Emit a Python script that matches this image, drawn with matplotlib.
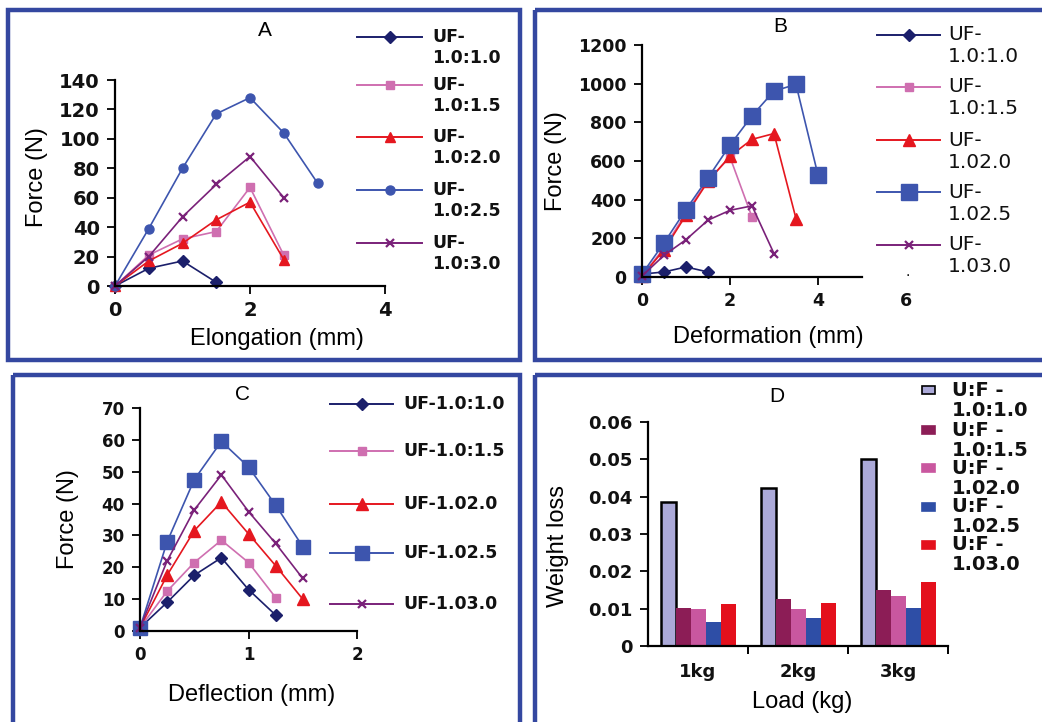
import matplotlib
matplotlib.use("Agg")
import matplotlib.pyplot as plt
from matplotlib.patches import Rectangle
from matplotlib.ticker import FuncFormatter

# ---- data -------------------------------------------------------------
series_names = ["1.0:1.0", "1.0:1.5", "1.0:2.0", "1.0:2.5", "1.0:3.0"]

# A: force vs elongation
a_x = [[0, 0.5, 1.0, 1.5],
       [0, 0.5, 1.0, 1.5, 2.0, 2.5],
       [0, 0.5, 1.0, 1.5, 2.0, 2.5],
       [0, 0.5, 1.0, 1.5, 2.0, 2.5, 3.0],
       [0, 0.5, 1.0, 1.5, 2.0, 2.5]]
a_y = [[0, 12, 17, 2.5],
       [0, 21, 32, 37, 67, 21],
       [0, 17, 29, 45, 57, 18],
       [0, 39, 80, 117, 128, 104, 70],
       [0, 20, 47, 69, 88, 60]]

# B: force vs deformation
b_x = [[0, 0.5, 1.0, 1.5],
       [0, 0.5, 1.0, 1.5, 2.0, 2.5],
       [0, 0.5, 1.0, 1.5, 2.0, 2.5, 3.0, 3.5],
       [0, 0.5, 1.0, 1.5, 2.0, 2.5, 3.0, 3.5, 4.0],
       [0, 0.5, 1.0, 1.5, 2.0, 2.5, 3.0]]
b_y = [[15, 26, 52, 26],
       [5, 150, 330, 500, 620, 310],
       [5, 140, 320, 495, 625, 712, 742, 302],
       [15, 176, 349, 513, 682, 834, 962, 996, 527],
       [5, 112, 193, 294, 345, 368, 121]]

# C: force vs deflection
c_x = [[0, 0.25, 0.5, 0.75, 1.0, 1.25],
       [0, 0.25, 0.5, 0.75, 1.0, 1.25],
       [0, 0.25, 0.5, 0.75, 1.0, 1.25, 1.5],
       [0, 0.25, 0.5, 0.75, 1.0, 1.25, 1.5],
       [0, 0.25, 0.5, 0.75, 1.0, 1.25, 1.5]]
c_y = [[1, 9, 17.5, 23, 13, 5],
       [1, 12.5, 21.5, 28.5, 21.5, 10.5],
       [1, 17.5, 31.5, 40.5, 30.5, 20.5, 10],
       [1, 28, 47.5, 59.5, 51.5, 39.5, 26.5],
       [1, 22, 38, 49, 37.5, 27.5, 16.5]]

# D: weight loss vs load
d_loads = ["1kg", "2kg", "3kg"]
d_vals = [[0.0386, 0.0423, 0.0502],
          [0.0103, 0.0125, 0.0150],
          [0.0098, 0.0098, 0.0135],
          [0.0065, 0.0074, 0.0103],
          [0.0112, 0.0114, 0.0172]]

a_labels = ["UF-\n1.0:1.0", "UF-\n1.0:1.5", "UF-\n1.0:2.0", "UF-\n1.0:2.5", "UF-\n1.0:3.0"]
b_labels = ["UF-\n1.0:1.0", "UF-\n1.0:1.5", "UF-\n1.02.0", "UF-\n1.02.5", "UF-\n1.03.0"]
c_labels = ["UF-1.0:1.0", "UF-1.0:1.5", "UF-1.02.0", "UF-1.02.5", "UF-1.03.0"]
d_labels = ["U:F -\n1.0:1.0", "U:F -\n1.0:1.5", "U:F -\n1.02.0", "U:F -\n1.02.5", "U:F -\n1.03.0"]

# ---- style ------------------------------------------------------------
W, H = 1042, 722
colors = ["#1B1F6B", "#CF6FB0", "#E5171F", "#3D55AE", "#7A2179"]
bar_colors = ["#ABA9D8", "#8C1D56", "#C9579F", "#2E4EA6", "#E4101C"]
FRAME = "#3447A0"
TICKFONT = "DejaVu Sans"
LABELFONT = "Liberation Sans"

fig = plt.figure(figsize=(W / 100, H / 100), dpi=100)
fig.patch.set_facecolor("white")


def fr(x0, y0, x1, y1):
    return [x0 / W, 1 - y1 / H, (x1 - x0) / W, (y1 - y0) / H]


def style_axes(ax, tsize):
    for s in ["top", "right"]:
        ax.spines[s].set_visible(False)
    for s in ["left", "bottom"]:
        ax.spines[s].set_linewidth(1.6)
    ax.tick_params(direction="out", length=6, width=1.4, pad=5,
                   labelsize=tsize, colors="#111111")
    for lab in ax.get_xticklabels() + ax.get_yticklabels():
        lab.set_fontfamily(TICKFONT)
        lab.set_fontweight("bold")


def axis_labels(ax, xl, yl, xpos, ypos):
    ax.set_xlabel(xl, fontsize=17, family=LABELFONT, va="center")
    ax.set_ylabel(yl, fontsize=17, family=LABELFONT, va="center")
    ax.xaxis.set_label_coords(*xpos)
    ax.yaxis.set_label_coords(*ypos)


# ---- A ----------------------------------------------------------------
axA = fig.add_axes(fr(115, 80, 385, 286))
a_mk = [("D", 6), ("s", 5.5), ("^", 7.5), ("o", 6.5), ("x", 6)]
for i in range(5):
    axA.plot(a_x[i], a_y[i], color=colors[i], lw=1.2, marker=a_mk[i][0],
             ms=a_mk[i][1], mew=1.6 if a_mk[i][0] == "x" else 1, clip_on=False)
axA.set_xlim(0, 4)
axA.set_ylim(0, 140)
axA.set_xticks([0, 2, 4])
axA.set_yticks(range(0, 141, 20))
style_axes(axA, 14)
axis_labels(axA, "Elongation (mm)", "Force (N)", (0.6, -0.255), (-0.29, 0.53))

# ---- B ----------------------------------------------------------------
axB = fig.add_axes(fr(642, 45, 906, 277))
b_mk = [("D", 6.5), ("s", 5.5), ("^", 8), ("s", 11), ("x", 6)]
for i in range(5):
    axB.plot(b_x[i], b_y[i], color=colors[i], lw=1.2, marker=b_mk[i][0],
             ms=b_mk[i][1], mew=1.6 if b_mk[i][0] == "x" else 1, clip_on=False)
axB.set_xlim(0, 6)
axB.set_ylim(0, 1200)
axB.set_xticks([0, 2, 4, 6])
axB.set_yticks(range(0, 1201, 200))
style_axes(axB, 12.5)
axB.spines["bottom"].set_bounds(0, 5)
axB.xaxis.get_major_ticks()[-1].tick1line.set_visible(False)
axis_labels(axB, "Deformation (mm)", "Force (N)", (0.477, -0.26), (-0.325, 0.5))

# ---- C ----------------------------------------------------------------
axC = fig.add_axes(fr(140, 408, 357, 631))
c_mk = [("D", 6), ("s", 5.5), ("^", 8), ("s", 10.5), ("x", 6)]
for i in range(5):
    axC.plot(c_x[i], c_y[i], color=colors[i], lw=1.2, marker=c_mk[i][0],
             ms=c_mk[i][1], mew=1.6 if c_mk[i][0] == "x" else 1, clip_on=False)
axC.set_xlim(0, 2)
axC.set_ylim(0, 70)
axC.set_xticks([0, 1, 2])
axC.set_yticks(range(0, 71, 10))
style_axes(axC, 12)
axis_labels(axC, "Deflection (mm)", "Force (N)", (0.516, -0.287), (-0.33, 0.5))

# ---- D ----------------------------------------------------------------
axD = fig.add_axes(fr(648, 422, 948, 646))
bw = 0.15
pos = list(range(1, len(d_loads) + 1))
for i in range(5):
    xs = [p + (i - 2) * bw for p in pos]
    if i == 0:
        axD.bar(xs, d_vals[i], width=bw, color=bar_colors[i],
                edgecolor="black", linewidth=1.8)
    else:
        axD.bar(xs, d_vals[i], width=bw, color=bar_colors[i], linewidth=0)
axD.set_xlim(0.5, 3.5)
axD.set_ylim(0, 0.06)
axD.set_xticks(pos)
axD.set_xticklabels(d_loads)
axD.set_xticks([1.5, 2.5, 3.5], minor=True)
axD.set_yticks([0, 0.01, 0.02, 0.03, 0.04, 0.05, 0.06])
axD.yaxis.set_major_formatter(FuncFormatter(lambda v, _: "0" if v == 0 else f"{v:.2f}"))
style_axes(axD, 13)
axD.tick_params(axis="x", which="major", length=0, pad=12)
axD.tick_params(axis="x", which="minor", length=6, width=1.4, direction="out")
axis_labels(axD, "Load (kg)", "Weight loss", (0.513, -0.25), (-0.3, 0.446))

# ---- overlay: frames, titles, legends ----------------------------------
ov = fig.add_axes([0, 0, 1, 1], zorder=5)
ov.set_xlim(0, W)
ov.set_ylim(H, 0)
ov.axis("off")

frames = [(8, 10, 520, 360), (535, 10, 1060, 360),
          (13, 375, 520, 740), (535, 375, 1060, 740)]
for x0, y0, x1, y1 in frames:
    ov.add_patch(Rectangle((x0, y0), x1 - x0, y1 - y0, fill=False,
                           edgecolor=FRAME, linewidth=3.2, clip_on=False))

for t, (x, y) in zip("ABCD", [(265, 30), (780, 27), (243, 395), (777, 397)]):
    ov.text(x, y, t, fontsize=15, family=LABELFONT, ha="center", va="center")


def line_legend(x0, x1, xt, ys, labels, mk, fsize, weight, dy, clip=None):
    for i, (y, lab) in enumerate(zip(ys, labels)):
        ov.plot([x0, (x0 + x1) / 2, x1], [y, y, y], color=colors[i], lw=1.4,
                marker=mk[i][0], ms=mk[i][1], markevery=[1],
                mew=1.6 if mk[i][0] == "x" else 1)
        for j, part in enumerate(lab.split("\n")):
            t = ov.text(xt, y + j * dy, part, fontsize=fsize, family=TICKFONT,
                        fontweight=weight, ha="left", va="center", color="#111111")
            if clip is not None:
                t.set_clip_path(clip)


line_legend(357, 422, 432, [37, 85, 137, 190, 243], a_labels,
            [("D", 6), ("s", 5.5), ("^", 7.5), ("o", 6.5), ("x", 6)], 12.5, "bold", 21)
line_legend(877, 940, 948, [35, 87, 140, 192, 245], b_labels,
            [("D", 6.5), ("s", 5.5), ("^", 8), ("s", 11), ("x", 6)], 14.5, "normal", 22)
clipC = Rectangle((13, 375), 507, 360, transform=ov.transData)
line_legend(330, 393, 403, [404, 451, 504, 553, 604], c_labels,
            [("D", 6), ("s", 5.5), ("^", 8), ("s", 10.5), ("x", 6)], 12.5, "bold", 0,
            clip=clipC)
ov.text(908, 272, ".", fontsize=10, ha="center", va="center")

for i, (y, lab) in enumerate(zip([390, 430, 468, 507, 545], d_labels)):
    ov.add_patch(Rectangle((922, y - 4), 13, 8, facecolor=bar_colors[i],
                           edgecolor="black" if i == 0 else bar_colors[i], linewidth=1.2))
    top, bottom = lab.split("\n")
    ov.text(952, y, top, fontsize=14, family=TICKFONT, fontweight="bold",
            ha="left", va="center", color="#111111")
    ov.text(952, y + 20, bottom, fontsize=14, family=TICKFONT, fontweight="bold",
            ha="left", va="center", color="#111111")

fig.savefig("out.png", dpi=100)
